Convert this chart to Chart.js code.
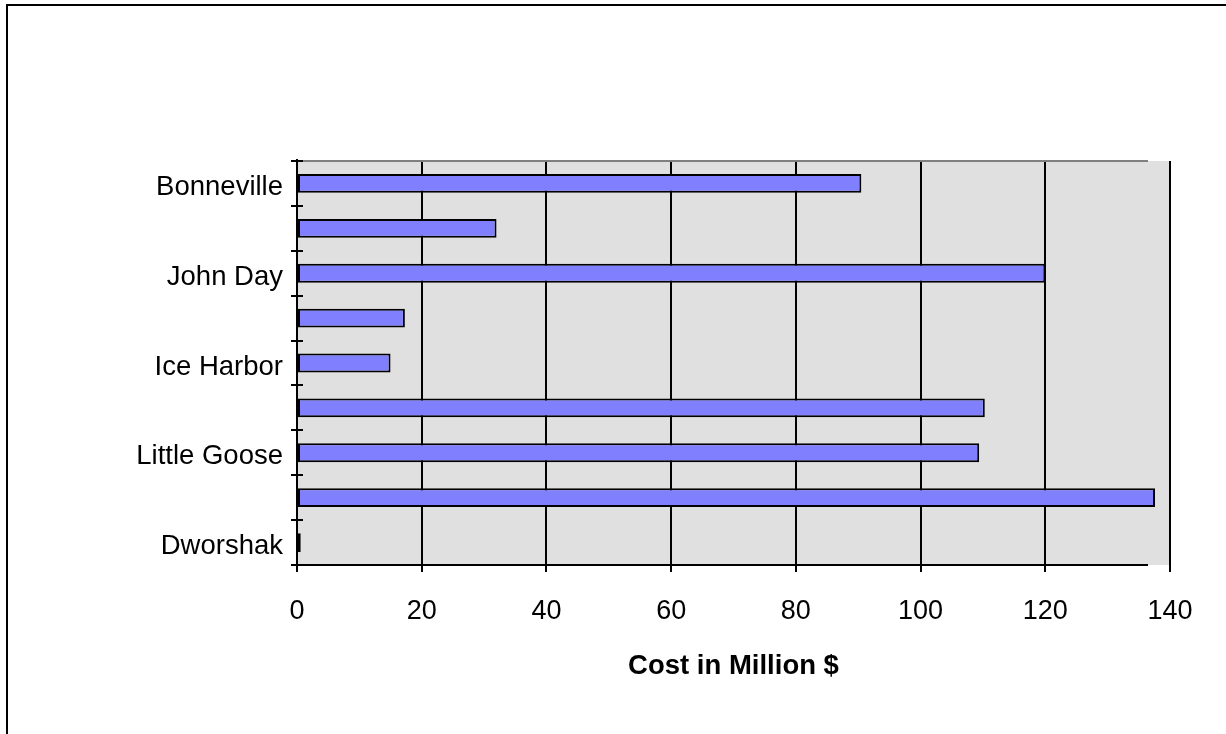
<!DOCTYPE html>
<html>
<head>
<meta charset="utf-8">
<script src="https://cdn.jsdelivr.net/npm/chart.js@4"></script>
<style>
  html, body { margin:0; padding:0; background:#fff; overflow:hidden; }
  #wrap { position:relative; width:1226px; height:734px; }
  #frame { position:absolute; left:6px; top:4px; width:1400px; height:900px;
           border-top:2px solid #000; border-left:2px solid #000; box-sizing:border-box; }
  canvas { position:absolute; left:0; top:0; }
</style>
</head>
<body>
<div id="wrap">
  <div id="frame"></div>
  <canvas id="c" width="1226" height="734"></canvas>
</div>
<script>
const categories = ['Bonneville', 'The Dalles', 'John Day', 'McNary', 'Ice Harbor',
                    'Lower Monumental', 'Little Goose', 'Lower Granite', 'Dworshak'];
const costs = [90.5, 32, 120, 17.3, 15, 110.3, 109.4, 137.6, 0.6];
const xTicks = [0, 20, 40, 60, 80, 100, 120, 140];
const xTitle = 'Cost in Million $';

const FONT = "'Liberation Sans', Arial, sans-serif";

const plotDecor = {
  id: 'plotDecor',
  beforeDraw(chart) {
    const {ctx, chartArea: a} = chart;
    ctx.save();
    ctx.fillStyle = '#E0E0E0';
    ctx.fillRect(a.left, a.top, a.right - a.left, a.bottom - a.top);
    ctx.restore();
  },
  afterDraw(chart) {
    const {ctx, chartArea: a} = chart;
    ctx.save();
    ctx.strokeStyle = '#808080';
    ctx.lineWidth = 2;
    ctx.beginPath();
    ctx.moveTo(a.left, a.top);
    ctx.lineTo(a.right - 22, a.top);
    ctx.stroke();
    ctx.strokeStyle = '#000';
    ctx.beginPath();
    ctx.moveTo(a.left, a.top - 2);
    ctx.lineTo(a.left, a.bottom + 3);
    ctx.stroke();
    const n = categories.length;
    for (let i = 0; i <= n; i++) {
      const py = a.top + (a.bottom - a.top) * i / n;
      ctx.beginPath();
      ctx.moveTo(a.left - 6, Math.round(py));
      ctx.lineTo(a.left + 6, Math.round(py));
      ctx.stroke();
    }
    ctx.beginPath();
    ctx.moveTo(a.left, a.bottom);
    ctx.lineTo(a.right - 22, a.bottom);
    ctx.stroke();
    ctx.restore();
  }
};

new Chart(document.getElementById('c'), {
  type: 'bar',
  data: {
    labels: categories,
    datasets: [{
      data: costs,
      backgroundColor: '#8080FF',
      borderColor: '#000000',
      borderWidth: 2,
      borderSkipped: false,
      barPercentage: 0.42,
      categoryPercentage: 1.0
    }]
  },
  options: {
    indexAxis: 'y',
    responsive: false,
    animation: false,
    devicePixelRatio: 1,
    layout: { padding: { left: 0, top: 161, right: 56, bottom: 0 } },
    plugins: { legend: { display: false }, tooltip: { enabled: false } },
    scales: {
      y: {
        type: 'category',
        afterFit(s) { s.width = 297; },
        grid: { display: false },
        border: { display: false },
        ticks: {
          autoSkip: false,
          padding: 6,
          labelOffset: 4,
          color: '#000',
          font: { family: FONT, size: 27.5 },
          callback(v, i) { return i % 2 === 0 ? categories[i] : ''; }
        }
      },
      x: {
        type: 'linear',
        min: 0, max: 140,
        afterFit(s) { s.height = 169; },
        afterBuildTicks(s) { s.ticks = xTicks.map(v => ({ value: v })); },
        grid: { color: '#000', lineWidth: 2, tickLength: 7, drawOnChartArea: true },
        border: { display: false },
        ticks: {
          padding: 23,
          color: '#000',
          font: { family: FONT, size: 27 }
        },
        title: {
          display: true,
          text: xTitle,
          color: '#000',
          font: { family: FONT, size: 27.5, weight: 'bold' },
          padding: { top: 0, bottom: 51 }
        }
      }
    }
  },
  plugins: [plotDecor]
});
</script>
</body>
</html>
